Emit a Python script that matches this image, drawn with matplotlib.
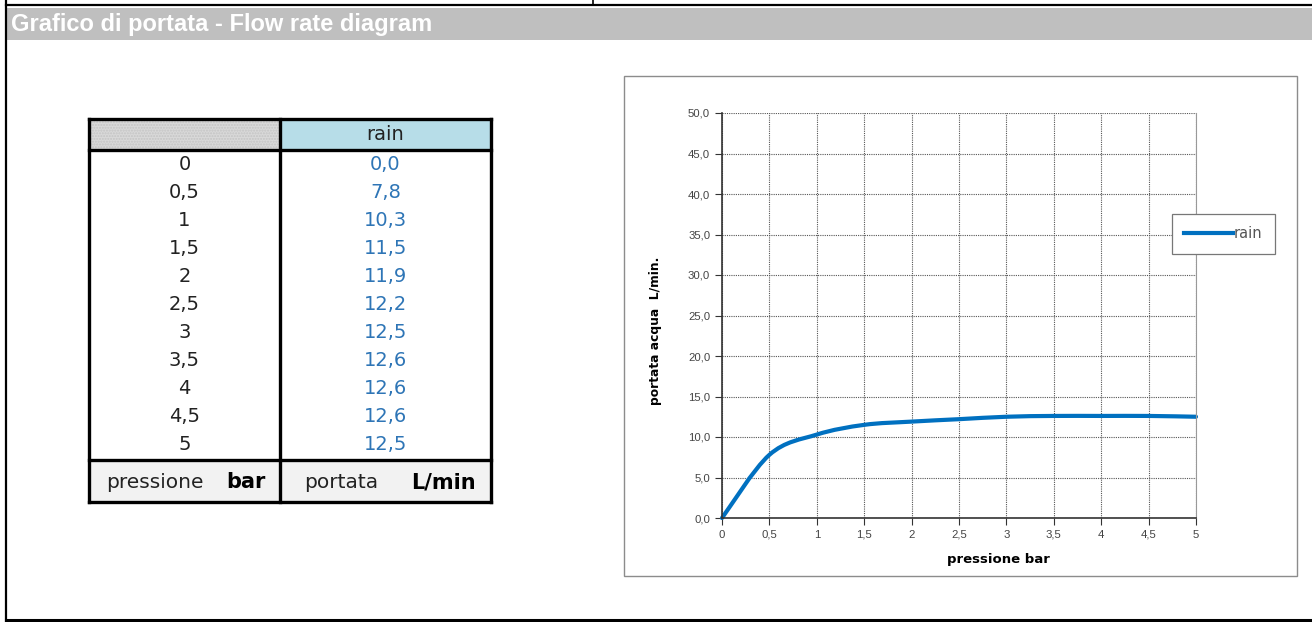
import numpy as np
import matplotlib
matplotlib.use("Agg")
import matplotlib.pyplot as plt
from matplotlib.patches import Rectangle, PathPatch
from matplotlib.path import Path
from matplotlib.lines import Line2D
from matplotlib.ticker import FuncFormatter, MultipleLocator

# ---------------- data ----------------
title = "Grafico di portata - Flow rate diagram"
pressure = [0, 0.5, 1, 1.5, 2, 2.5, 3, 3.5, 4, 4.5, 5]
flow_rain = [0.0, 7.8, 10.3, 11.5, 11.9, 12.2, 12.5, 12.6, 12.6, 12.6, 12.5]
series_name = "rain"
xlabel = "pressione bar"
ylabel = "portata acqua  L/min."
foot_left = ("pressione", "bar")
foot_right = ("portata", "L/min")

def it(v, dec=None):
    s = f"{v:.{dec}f}" if dec is not None else (f"{v:g}")
    return s.replace(".", ",")

W, H = 1312, 622
fig = plt.figure(figsize=(W / 100, H / 100), dpi=100)
fig.patch.set_facecolor("white")

# overlay axes in pixel coordinates
ov = fig.add_axes([0, 0, 1, 1])
ov.set_xlim(0, W)
ov.set_ylim(H, 0)
ov.axis("off")

# outer frame / header
ov.add_line(Line2D([6, W], [5, 5], color="black", lw=1.6))
ov.add_line(Line2D([593, 593], [0, 5], color="black", lw=1.2))
ov.add_line(Line2D([6, 6], [0, H], color="black", lw=1.6))
ov.add_line(Line2D([6, W], [620, 620], color="black", lw=2.2))
ov.add_patch(Rectangle((7, 8), W - 7, 32, facecolor="#bfbfbf", edgecolor="none"))
ov.text(11, 24, title, color="white", fontsize=17, fontweight="bold",
        family="Liberation Sans", va="center", ha="left")

# ---------------- table ----------------
tx0, tx1, tx2 = 89, 280, 491
ty_top, ty_head, ty_foot, ty_bot = 119, 150, 460, 502
ov.add_patch(Rectangle((tx0, ty_top), tx1 - tx0, ty_head - ty_top,
                       facecolor="#d9d9d9", edgecolor="#c4c4c4", hatch="......", lw=0))
ov.add_patch(Rectangle((tx1, ty_top), tx2 - tx1, ty_head - ty_top,
                       facecolor="#b7dde8", edgecolor="none"))
ov.add_patch(Rectangle((tx0, ty_foot), tx2 - tx0, ty_bot - ty_foot,
                       facecolor="#f2f2f2", edgecolor="none"))
lwb = 2.4
for y in (ty_top, ty_head, ty_foot, ty_bot):
    ov.add_line(Line2D([tx0, tx2], [y, y], color="black", lw=lwb))
for x in (tx0, tx1, tx2):
    ov.add_line(Line2D([x, x], [ty_top, ty_bot], color="black", lw=lwb))

tfont = "DejaVu Sans"
ov.text((tx1 + tx2) / 2, 135, series_name, fontsize=14, family=tfont,
        ha="center", va="center", color="#222222")
row_h = (445 - 164) / (len(pressure) - 1)
for i, (p, q) in enumerate(zip(pressure, flow_rain)):
    y = 164 + i * row_h
    ov.text((tx0 + tx1) / 2, y, it(p), fontsize=14, family=tfont,
            ha="center", va="center", color="#222222")
    ov.text((tx1 + tx2) / 2, y, it(q, 1), fontsize=14, family=tfont,
            ha="center", va="center", color="#2e75b6")

# footer
ov.text(106, 482, foot_left[0], fontsize=14.5, family=tfont, ha="left", va="center", color="#222222")
ov.text(266, 482, foot_left[1], fontsize=15, family=tfont, ha="right", va="center",
        fontweight="bold", color="black")
ov.text(304, 482, foot_right[0], fontsize=14.5, family=tfont, ha="left", va="center", color="#222222")
ov.text(476, 482, foot_right[1], fontsize=15, family=tfont, ha="right", va="center",
        fontweight="bold", color="black")

# chart frame
ov.add_patch(Rectangle((624, 76), 1297 - 624, 576 - 76, facecolor="white",
                       edgecolor="#8c8c8c", lw=1.0))

# ---------------- chart ----------------
px0, px1, py0, py1 = 722, 1196, 518, 113
ax = fig.add_axes([px0 / W, 1 - py0 / H, (px1 - px0) / W, (py0 - py1) / H])
ax.set_xlim(0, 5)
ax.set_ylim(0, 50)
ax.xaxis.set_major_locator(MultipleLocator(0.5))
ax.yaxis.set_major_locator(MultipleLocator(5))
ax.xaxis.set_major_formatter(FuncFormatter(lambda v, p: it(round(v, 1))))
ax.yaxis.set_major_formatter(FuncFormatter(lambda v, p: it(v, 1)))
ax.grid(True, color="#555555", lw=0.8, linestyle=(0, (1, 1)))
ax.set_axisbelow(True)
ax.spines["top"].set_visible(False)
ax.spines["right"].set_color("#999999")
ax.spines["right"].set_linewidth(0.8)
for s in ("left", "bottom"):
    ax.spines[s].set_color("#333333")
    ax.spines[s].set_linewidth(1.2)
ax.tick_params(direction="out", length=5, width=0.8, color="#333333",
               labelsize=8.2, labelcolor="#444444")
for lab in ax.get_xticklabels() + ax.get_yticklabels():
    lab.set_family("Liberation Sans")
ax.set_xlabel(xlabel, fontsize=9.5, fontweight="bold", family="DejaVu Sans")
ax.set_ylabel(ylabel, fontsize=8.8, fontweight="bold", family="DejaVu Sans")
ax.xaxis.set_label_coords((998 - px0) / (px1 - px0), -(560 - py0) / (py0 - py1), transform=ax.transAxes)
ax.yaxis.set_label_coords(-(px0 - 655) / (px1 - px0), (py0 - 331) / (py0 - py1), transform=ax.transAxes)
ax.xaxis.label.set_va("center")
ax.yaxis.label.set_va("center")

# smoothed line (Catmull-Rom style Bezier through the data points)
xs = np.asarray(pressure, float)
ys = np.asarray(flow_rain, float)
verts = [(xs[0], ys[0])]
codes = [Path.MOVETO]
n = len(xs)
for i in range(n - 1):
    x0_, y0_ = xs[max(i - 1, 0)], ys[max(i - 1, 0)]
    x1_, y1_ = xs[i], ys[i]
    x2_, y2_ = xs[i + 1], ys[i + 1]
    x3_, y3_ = xs[min(i + 2, n - 1)], ys[min(i + 2, n - 1)]
    c1 = (x1_ + (x2_ - x0_) / 6, y1_ + (y2_ - y0_) / 6)
    c2 = (x2_ - (x3_ - x1_) / 6, y2_ - (y3_ - y1_) / 6)
    verts += [c1, c2, (x2_, y2_)]
    codes += [Path.CURVE4] * 3
ax.add_patch(PathPatch(Path(verts, codes), facecolor="none", edgecolor="#0070c0",
                       lw=3.0, capstyle="round", joinstyle="round", clip_on=False))
# proxy handle for legend
ax.plot([], [], color="#0070c0", lw=3.0, label=series_name)
leg = ax.legend(loc="upper left", bbox_to_anchor=(1172 / W, 1 - 214 / H),
                bbox_transform=fig.transFigure, borderaxespad=0, fancybox=False,
                edgecolor="#777777", framealpha=1, handlelength=3.3,
                handletextpad=0.1, borderpad=0.85, prop={"family": "DejaVu Sans", "size": 10.5})
leg.get_frame().set_linewidth(0.9)
for t in leg.get_texts():
    t.set_color("#555555")

fig.savefig("out.png", dpi=100)
